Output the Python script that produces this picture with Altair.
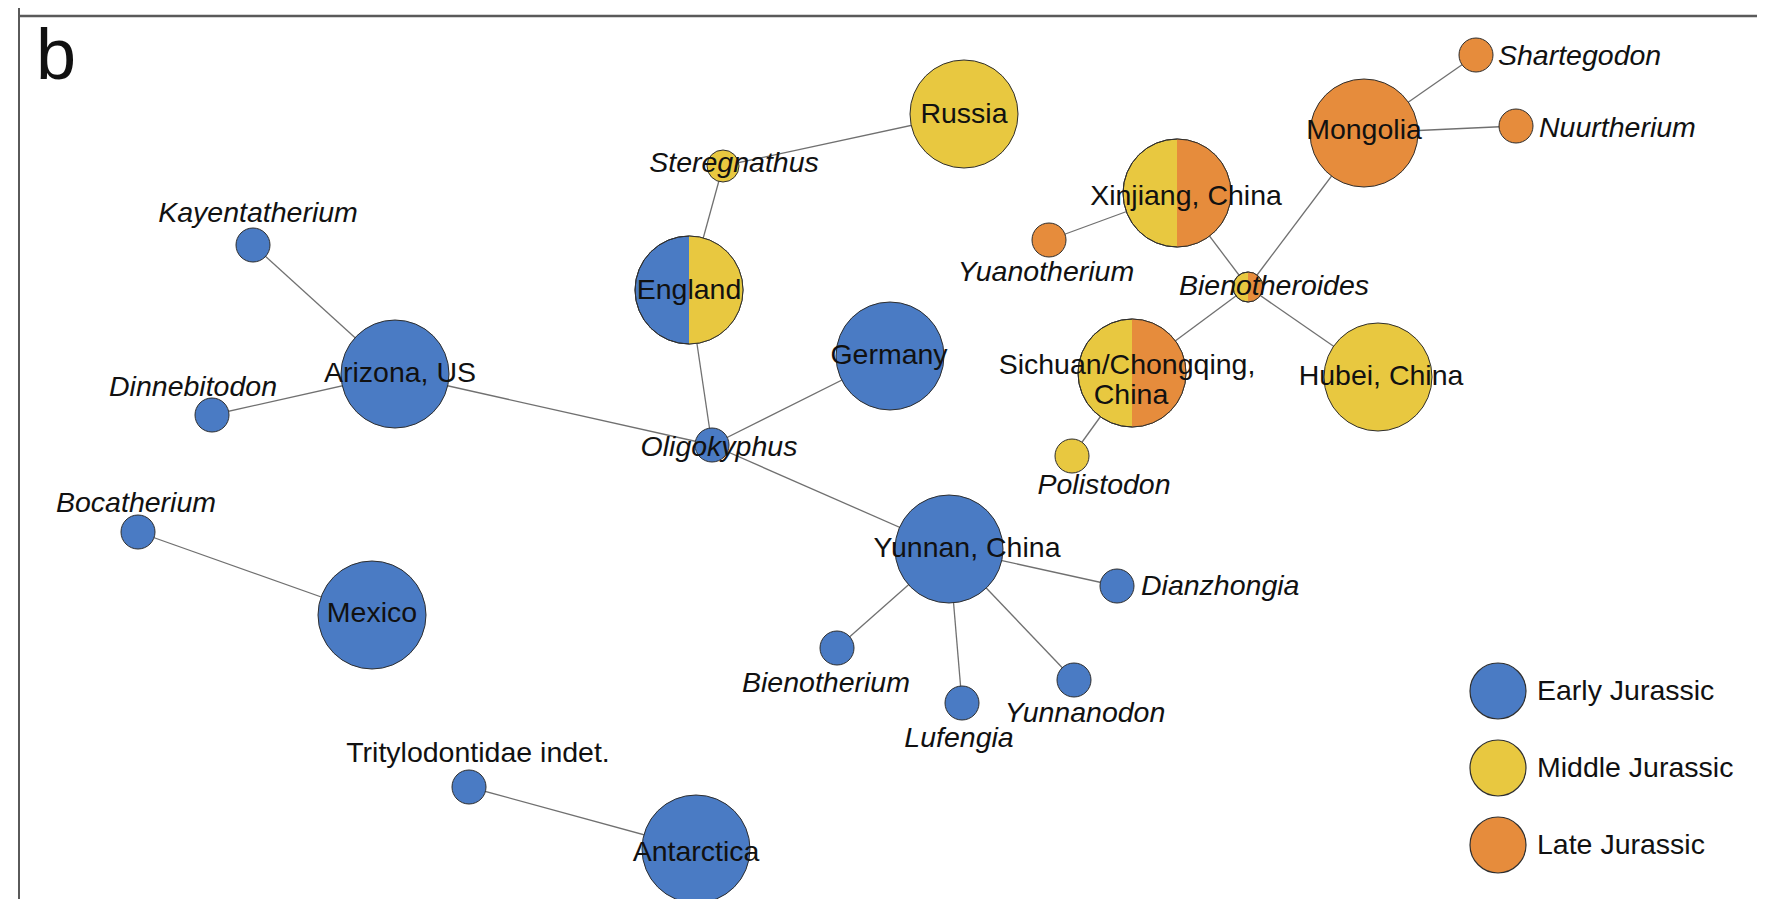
import math
import altair as alt
import pandas as pd

# ---------------- data ----------------
periods = ["Early Jurassic", "Middle Jurassic", "Late Jurassic"]
period_colors = ["#4A7BC4", "#E8C840", "#E68C3C"]

node_names = ["Arizona, US", "Kayentatherium", "Dinnebitodon", "Bocatherium", "Mexico",
              "Tritylodontidae indet.", "Antarctica", "England", "Steregnathus", "Russia",
              "Germany", "Oligokyphus", "Yunnan, China", "Dianzhongia", "Bienotherium",
              "Lufengia", "Yunnanodon", "Sichuan/Chongqing, China", "Polistodon",
              "Xinjiang, China", "Yuanotherium", "Bienotheroides", "Mongolia",
              "Shartegodon", "Nuurtherium", "Hubei, China"]
node_x = [395, 253, 212, 138, 372, 469, 696, 689, 723, 964, 890, 712, 949, 1117, 837,
          962, 1074, 1132, 1072, 1177, 1049, 1248, 1364, 1476, 1516, 1378]
node_y = [374, 245, 415, 532, 615, 787, 849, 290, 166, 114, 356, 445, 549, 586, 648,
          703, 680, 373, 456, 193, 240, 287, 133, 55, 126, 377]
node_r = [54, 17, 17, 17, 54, 17, 54, 54, 16, 54, 54, 17, 54, 17, 17,
          17, 17, 54, 17, 54, 17, 15, 54, 17, 17, 54]
E, M, L = periods
node_left = [E, E, E, E, E, E, E, E, M, M, E, E, E, E, E, E, E, M, M, M, L, M, L, L, L, M]
node_right = [E, E, E, E, E, E, E, M, M, M, E, E, E, E, E, E, E, L, M, L, L, L, L, L, L, M]

edges_from = ["Kayentatherium", "Dinnebitodon", "Arizona, US", "England", "Germany",
              "Oligokyphus", "England", "Steregnathus", "Yunnan, China", "Yunnan, China",
              "Yunnan, China", "Yunnan, China", "Bocatherium", "Tritylodontidae indet.",
              "Xinjiang, China", "Xinjiang, China", "Bienotheroides", "Bienotheroides",
              "Bienotheroides", "Sichuan/Chongqing, China", "Mongolia", "Mongolia"]
edges_to = ["Arizona, US", "Arizona, US", "Oligokyphus", "Oligokyphus", "Oligokyphus",
            "Yunnan, China", "Steregnathus", "Russia", "Dianzhongia", "Bienotherium",
            "Lufengia", "Yunnanodon", "Mexico", "Antarctica",
            "Yuanotherium", "Bienotheroides", "Mongolia", "Hubei, China",
            "Sichuan/Chongqing, China", "Polistodon", "Shartegodon", "Nuurtherium"]

label_text = ["Kayentatherium", "Arizona, US", "Dinnebitodon", "Bocatherium", "Mexico",
              "Tritylodontidae indet.", "Antarctica", "England", "Germany", "Oligokyphus",
              "Yunnan, China", "Dianzhongia", "Bienotherium", "Lufengia", "Yunnanodon",
              "Sichuan/Chongqing,", "China", "Polistodon", "Shartegodon", "Mongolia",
              "Nuurtherium", "Xinjiang, China", "Yuanotherium", "Bienotheroides",
              "Hubei, China", "Russia", "Steregnathus"]
label_x = [258, 400, 193, 136, 372, 478, 696, 689, 889, 719, 967, 1141, 826, 959, 1085,
           1127, 1131, 1104, 1498, 1364, 1539, 1186, 1046, 1274, 1381, 964, 734]
label_y = [213, 373, 387, 503, 613, 753, 852, 290, 355, 447, 548, 586, 683, 738, 713,
           365, 395, 485, 56, 130, 128, 196, 272, 286, 376, 114, 163]
label_align = ["center", "center", "center", "center", "center", "center", "center",
               "center", "center", "center", "center", "left", "center", "center",
               "center", "center", "center", "center", "left", "center", "left",
               "center", "center", "center", "center", "center", "center"]
label_italic = [True, False, True, True, False, False, False, False, False, True, False,
                True, True, True, True, False, False, True, True, False, True, False,
                True, True, False, False, True]

# ---------------- tables ----------------
nodes = pd.DataFrame({"name": node_names, "x": node_x, "y": node_y, "r": node_r,
                      "pl": node_left, "pr": node_right})
nodes["s"] = 4 * nodes["r"] ** 2
split = nodes[nodes["pl"] != nodes["pr"]].copy()

pos = {n: (x, y) for n, x, y in zip(node_names, node_x, node_y)}
edges = pd.DataFrame({
    "x": [pos[a][0] for a in edges_from], "y": [pos[a][1] for a in edges_from],
    "x2": [pos[b][0] for b in edges_to], "y2": [pos[b][1] for b in edges_to],
})
labels = pd.DataFrame({"t": label_text, "lx": label_x, "ly": label_y,
                       "al": label_align, "it": label_italic})

W, H = 1749, 891
xs = alt.Scale(domain=[8, 8 + W], nice=False, zero=False)
ys = alt.Scale(domain=[8, 8 + H], nice=False, zero=False, reverse=True)
cscale = alt.Scale(domain=periods, range=period_colors)
FONT = "Liberation Sans"
FS = 28.5
STROKE = "#2E2E2E"

edge_layer = alt.Chart(edges).mark_rule(color="#707070", strokeWidth=1.3).encode(
    x=alt.X("x:Q", scale=xs, axis=None), y=alt.Y("y:Q", scale=ys, axis=None),
    x2="x2:Q", y2="y2:Q")

circle_layer = alt.Chart(nodes).mark_circle(opacity=1, stroke=STROKE, strokeWidth=1).encode(
    x=alt.X("x:Q", scale=xs, axis=None), y=alt.Y("y:Q", scale=ys, axis=None),
    size=alt.Size("s:Q", scale=None),
    color=alt.Color("pl:N", scale=cscale, legend=alt.Legend(
        title=None, orient="none", legendX=1461, legendY=654, padding=0,
        symbolType="circle", symbolSize=3136, symbolStrokeColor=STROKE,
        symbolStrokeWidth=1.2, symbolOpacity=1, labelFont=FONT, labelFontSize=FS,
        labelColor="#111111", labelOffset=10, rowPadding=15, labelLimit=400)))

half_layer = alt.Chart(split).mark_arc(theta=0, theta2=math.pi, opacity=1).encode(
    x=alt.X("x:Q", scale=xs, axis=None), y=alt.Y("y:Q", scale=ys, axis=None),
    radius=alt.Radius("r:Q", scale=None, stack=None),
    color=alt.Color("pr:N", scale=cscale, legend=None))

outline_layer = alt.Chart(split).mark_point(shape="circle", filled=False, opacity=1,
                                             stroke=STROKE, strokeWidth=1).encode(
    x=alt.X("x:Q", scale=xs, axis=None), y=alt.Y("y:Q", scale=ys, axis=None),
    size=alt.Size("s:Q", scale=None))


def text_layer(df, italic, align):
    return alt.Chart(df).mark_text(font=FONT, fontSize=FS, color="#111111",
                                   fontStyle="italic" if italic else "normal",
                                   align=align, baseline="middle").encode(
        x=alt.X("lx:Q", scale=xs, axis=None), y=alt.Y("ly:Q", scale=ys, axis=None),
        text="t:N")


text_layers = []
for it in [False, True]:
    for al in ["center", "left"]:
        sub = labels[(labels["it"] == it) & (labels["al"] == al)]
        if len(sub):
            text_layers.append(text_layer(sub, it, al))

frame_df = pd.DataFrame({"k": [0]})
hline = alt.Chart(frame_df).mark_rule(color="#5A5A5A", strokeWidth=2.5).encode(
    x=alt.value(11), x2=alt.value(W), y=alt.value(8))
vline = alt.Chart(frame_df).mark_rule(color="#5A5A5A", strokeWidth=2).encode(
    x=alt.value(11), y=alt.value(0), y2=alt.value(H))
panel = alt.Chart(frame_df).mark_text(font=FONT, fontSize=72, color="#111111",
                                      align="left", baseline="alphabetic").encode(
    x=alt.value(28), y=alt.value(71), text=alt.value("b"))

chart = alt.layer(edge_layer, circle_layer, half_layer, outline_layer, *text_layers,
                  hline, vline, panel).properties(
    width=W, height=H, padding=0, autosize="none", background="white"
).configure_view(stroke=None)

chart.save("out.html", embed_options={"renderer": "svg", "actions": False})
